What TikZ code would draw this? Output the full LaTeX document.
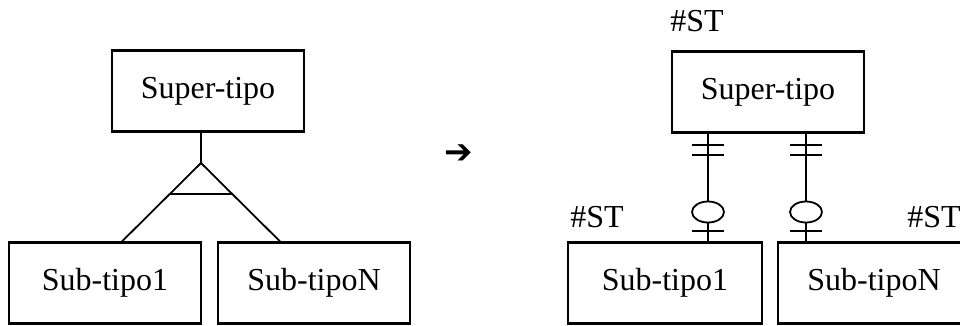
\documentclass[tikz,border=0pt]{standalone}
\usepackage{fontspec}
\setmainfont{Liberation Serif}
\newfontfamily\symfont{DejaVu Sans}
\tikzset{
  entity/.style={draw, line width=2.2pt, minimum height=81pt, inner sep=0pt, font=\fontsize{32}{35}\selectfont},
  link/.style={line width=1.8pt},
  label/.style={font=\fontsize{32}{35}\selectfont, inner sep=0pt}
}
\begin{document}
\begin{tikzpicture}[x=1pt,y=-1pt]
            \useasboundingbox (0,0) rectangle (960,325);
            % generalisation
            \node[entity, minimum width=192pt] (sup) at (208,91) {Super-tipo};
            \node[entity, minimum width=192pt] (subA) at (105,283) {Sub-tipo1};
            \node[entity, minimum width=192pt] (subN) at (314,283) {Sub-tipoN};
            \coordinate (apex) at (201,163);
            \coordinate (barL) at (170,194);
            \coordinate (barR) at (232,194);
            \draw[link] (sup.south -| apex) -- (apex);
            \draw[link] (apex) -- (subA.north -| 122,0);
            \draw[link] (apex) -- (subN.north -| 280,0);
            \draw[link] (barL) -- (barR);
            % arrow
            \node[inner sep=0pt, font=\symfont\fontsize{34}{34}\selectfont] (arr) at (459,154) {➔};
            % relationships
            \node[entity, minimum width=192pt] (supR) at (768,92) {Super-tipo};
            \node[entity, minimum width=194pt] (subRA) at (665,283) {Sub-tipo1};
            \node[entity, minimum width=192pt] (subRN) at (874,283) {Sub-tipoN};
            \node[label] (st0) at (697,21) {\#ST};
            \node[label] (st1) at (597,217) {\#ST};
            \node[label] (st2) at (934,217) {\#ST};
            \foreach \x/\s in {708/subRA, 806/subRN} {
              \draw[link] (supR.south -| \x,0) -- (\s.north -| \x,0);
              \draw[link] (\x-16,145) -- (\x+16,145);
              \draw[link] (\x-16,155) -- (\x+16,155);
              \draw[link, fill=white] (\x,212) ellipse [x radius=16pt, y radius=10.5pt];
              \draw[link] (\x-16,231) -- (\x+16,231);
            }
        \end{tikzpicture}
\end{document}
